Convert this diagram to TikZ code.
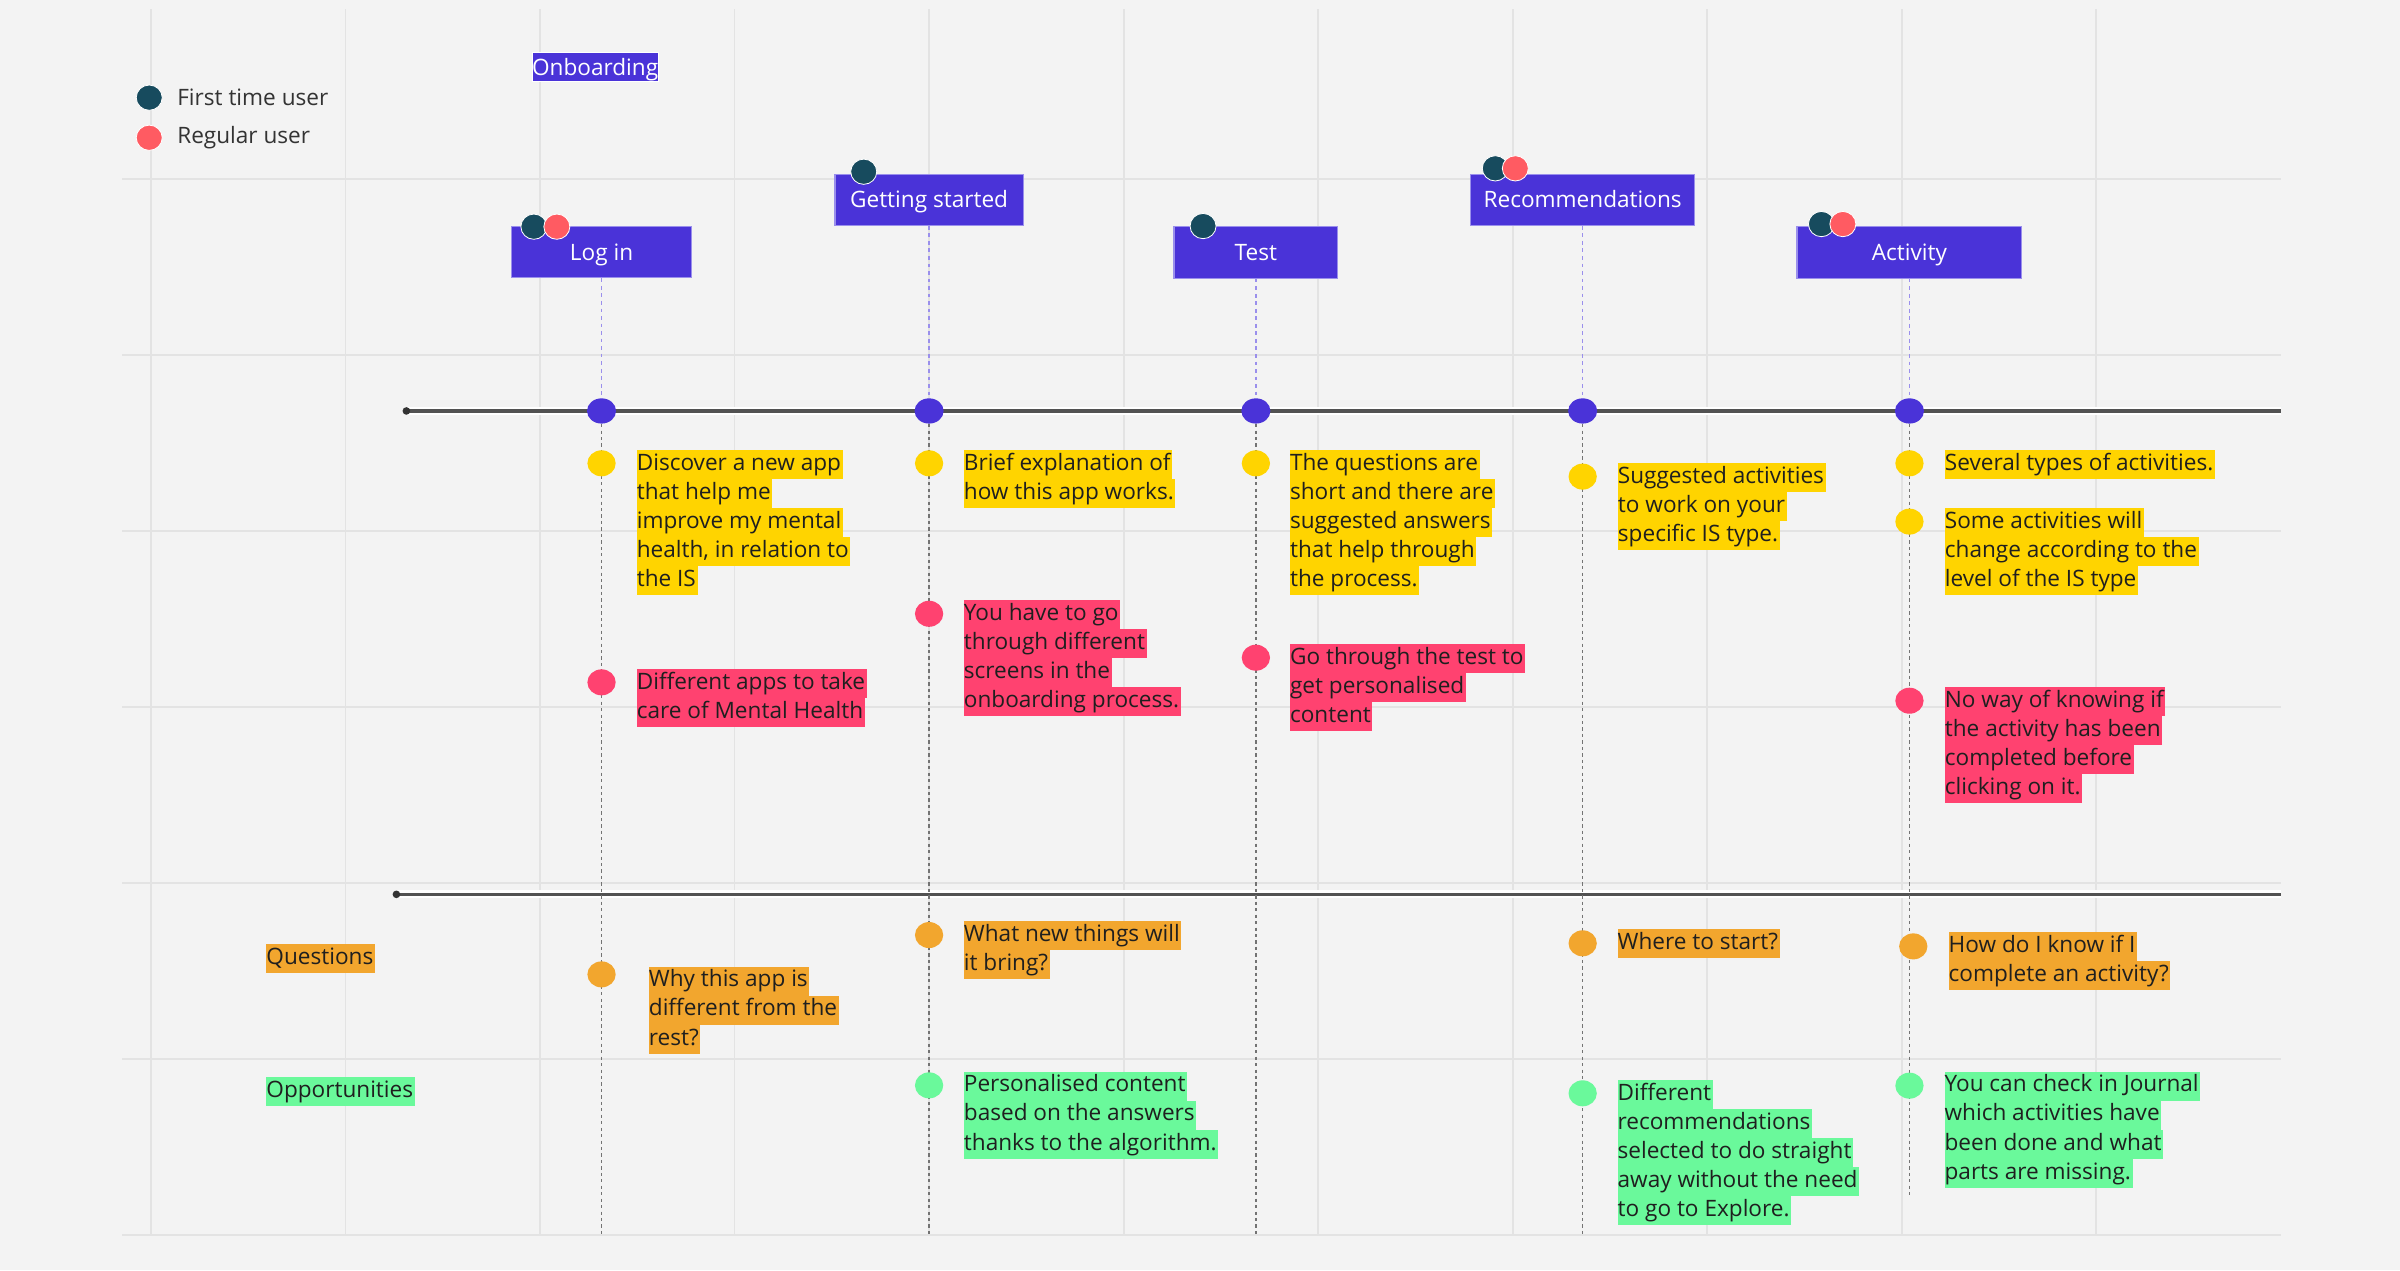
\documentclass[tikz,border=0pt]{standalone}
\usepackage{fontspec}
\setmainfont{Open Sans}
\usepackage{tikz}
\usetikzlibrary{shapes.geometric, backgrounds}

\definecolor{bgcol}{HTML}{F3F3F3}
\definecolor{gridcol}{HTML}{E3E3E3}
\definecolor{stagecol}{HTML}{4A33D8}
\definecolor{linkcol}{HTML}{9A8FEC}
\definecolor{firstcol}{HTML}{174B5E}
\definecolor{regularcol}{HTML}{FF5B62}
\definecolor{yellowcol}{HTML}{FFD400}
\definecolor{pinkcol}{HTML}{FF4270}
\definecolor{orangecol}{HTML}{F2A62E}
\definecolor{greencol}{HTML}{6AF99B}
\definecolor{inkcol}{HTML}{1F1F1F}
\definecolor{axiscol}{HTML}{525252}

\newcommand{\notefont}{\fontsize{8.4}{10.8}\selectfont}
\colorlet{hlcol}{yellowcol}
\newcommand{\hl}[1]{{\setlength{\fboxsep}{0pt}\colorbox{hlcol}{\rule[-3.2pt]{0pt}{10.8pt}#1\hspace{0.6pt}}}}

\begin{document}
\begin{tikzpicture}[x=0.02cm, y=-0.02cm,
    gridline/.style={draw=gridcol, line width=0.7pt},
    axisline/.style={draw=axiscol, line width=1.2pt, preaction={draw=white, line width=3pt}},
    axisdot/.style={circle, fill=black!80, minimum size=0.1cm, inner sep=0pt},
    stage/.style={fill=stagecol, draw=linkcol, line width=0.4pt, text=white,
                  font=\notefont, text height=6pt, text depth=0pt,
                  minimum height=0.67cm, inner sep=0pt},
    stagedot/.style={ellipse, fill=stagecol, minimum width=0.38cm, minimum height=0.33cm, inner sep=0pt},
    avatar/.style={ellipse, draw=white, line width=0.3pt, minimum width=0.34cm,
                   minimum height=0.33cm, inner sep=0pt},
    firstuser/.style={avatar, fill=firstcol},
    regularuser/.style={avatar, fill=regularcol},
    link/.style={draw=linkcol, line width=0.5pt, dash pattern=on 1.4pt off 1.4pt},
    trail/.style={draw=black!55, line width=0.55pt, dash pattern=on 1.2pt off 1.2pt},
    notedot/.style={ellipse, minimum width=0.37cm, minimum height=0.34cm, inner sep=0pt},
    note/.style={anchor=north west, inner sep=0pt, align=left, font=\notefont, text=inkcol},
    yellownote/.style={note, execute at begin node={\colorlet{hlcol}{yellowcol}}},
    pinknote/.style={note, execute at begin node={\colorlet{hlcol}{pinkcol}}},
    orangenote/.style={note, execute at begin node={\colorlet{hlcol}{orangecol}}},
    greennote/.style={note, execute at begin node={\colorlet{hlcol}{greencol}}}
]
    \useasboundingbox (0,0) rectangle (1568,830);

    % --- Board ---
    \begin{scope}[on background layer]
        \fill[bgcol] (0,0) rectangle (1568,830);
        \foreach \gx in {0,...,10}
            \draw[gridline] (98.6+127.1*\gx,6) -- (98.6+127.1*\gx,807);
        \foreach \gy in {117,232,...,807}
            \draw[gridline] (80,\gy) -- (1490,\gy);
    \end{scope}

    % --- Legend ---
    \node[stage, minimum width=1.64cm, minimum height=0.374cm, draw=white] (onboarding) at (388.8,43.8) {Onboarding};
    \node[firstuser] (legend-first) at (97.5,63.8) {};
    \node[regularuser] (legend-regular) at (97.5,90) {};
    \node[anchor=west, inner sep=0pt, font=\notefont, text=black!80] (first-label) at (115.5,63.8) {First time user};
    \node[anchor=west, inner sep=0pt, font=\notefont, text=black!80] (regular-label) at (115.5,90) {Regular user};

    % --- Stages ---
    \node[stage, minimum width=2.35cm] (login)    at (393,164.8)  {Log in};
    \node[stage, minimum width=2.46cm] (start)    at (607,130.5)  {Getting started};
    \node[stage, minimum width=2.14cm] (test)     at (820.5,165)  {Test};
    \node[stage, minimum width=2.92cm] (recs)     at (1034,130.5) {Recommendations};
    \node[stage, minimum width=2.94cm] (activity) at (1247.5,165) {Activity};

    \node[firstuser]   (login-first)    at (348.8,148.1) {};
    \node[regularuser] (login-regular)  at (363.8,148.1) {};
    \node[firstuser]   (start-first)    at (564.3,112.2) {};
    \node[firstuser]   (test-first)     at (786,147.7)   {};
    \node[firstuser]   (recs-first)     at (976.9,110)   {};
    \node[regularuser] (recs-regular)   at (990,110)     {};
    \node[firstuser]   (activity-first) at (1190,146.4)  {};
    \node[regularuser] (activity-regular) at (1204,146.4) {};

    % --- Timelines ---
    \node[axisdot] (axis-start)  at (265.5,268.5) {};
    \coordinate    (axis-end)    at (1490,268.5);
    \node[axisdot] (split-start) at (259,584.3) {};
    \coordinate    (split-end)   at (1490,584.3);

    \node[stagedot] (login-dot)    at (393,268.5)   {};
    \node[stagedot] (start-dot)    at (607,268.5)   {};
    \node[stagedot] (test-dot)     at (820.5,268.5) {};
    \node[stagedot] (recs-dot)     at (1034,268.5)  {};
    \node[stagedot] (activity-dot) at (1247.5,268.5) {};

    \coordinate (login-end)    at (393,807);
    \coordinate (start-end)    at (607,807);
    \coordinate (test-end)     at (820.5,807);
    \coordinate (recs-end)     at (1034,807);
    \coordinate (activity-end) at (1247.5,783);

    % --- Feelings ---
    \node[notedot, fill=yellowcol] (login-good) at (393,302.7) {};
    \node[yellownote] (login-good-text) at (415.7,293.6)
        {\hl{Discover a new app}\\\hl{that help me}\\\hl{improve my mental}\\\hl{health, in relation to}\\\hl{the IS}};
    \node[notedot, fill=pinkcol] (login-bad) at (393,445.8) {};
    \node[pinknote] (login-bad-text) at (415.7,436.6)
        {\hl{Different apps to take}\\\hl{care of Mental Health}};

    \node[notedot, fill=yellowcol] (start-good) at (607,302.7) {};
    \node[yellownote] (start-good-text) at (629.4,293.6)
        {\hl{Brief explanation of}\\\hl{how this app works.}};
    \node[notedot, fill=pinkcol] (start-bad) at (607,401) {};
    \node[pinknote] (start-bad-text) at (629.4,391.8)
        {\hl{You have to go}\\\hl{through different}\\\hl{screens in the}\\\hl{onboarding process.}};

    \node[notedot, fill=yellowcol] (test-good) at (820.5,302.7) {};
    \node[yellownote] (test-good-text) at (842.5,293.6)
        {\hl{The questions are}\\\hl{short and there are}\\\hl{suggested answers}\\\hl{that help through}\\\hl{the process.}};
    \node[notedot, fill=pinkcol] (test-bad) at (820.5,429.7) {};
    \node[pinknote] (test-bad-text) at (842.5,420.3)
        {\hl{Go through the test to}\\\hl{get personalised}\\\hl{content}};

    \node[notedot, fill=yellowcol] (recs-good) at (1034,311.4) {};
    \node[yellownote] (recs-good-text) at (1056.7,302.1)
        {\hl{Suggested activities}\\\hl{to work on your}\\\hl{specific IS type.}};

    \node[notedot, fill=yellowcol] (activity-good) at (1247.5,302.7) {};
    \node[yellownote] (activity-good-text) at (1270.3,293.6)
        {\hl{Several types of activities.}};
    \node[notedot, fill=yellowcol] (activity-good2) at (1247.5,340.8) {};
    \node[yellownote] (activity-good2-text) at (1270.3,331.7)
        {\hl{Some activities will}\\\hl{change according to the}\\\hl{level of the IS type}};
    \node[notedot, fill=pinkcol] (activity-bad) at (1247.5,457.8) {};
    \node[pinknote] (activity-bad-text) at (1270.3,448.6)
        {\hl{No way of knowing if}\\\hl{the activity has been}\\\hl{completed before}\\\hl{clicking on it.}};

    % --- Questions and opportunities ---
    \node[orangenote] (questions) at (173.7,616.3) {\hl{Questions}};
    \node[greennote] (opportunities) at (173.7,703.4) {\hl{Opportunities}};

    \node[notedot, fill=orangecol] (login-ask) at (393,636.6) {};
    \node[orangenote] (login-ask-text) at (423.6,631.1)
        {\hl{Why this app is}\\\hl{different from the}\\\hl{rest?}};

    \node[notedot, fill=orangecol] (start-ask) at (607,610.9) {};
    \node[orangenote] (start-ask-text) at (629.4,601.5)
        {\hl{What new things will}\\\hl{it bring?}};
    \node[notedot, fill=greencol] (start-idea) at (607,709.1) {};
    \node[greennote] (start-idea-text) at (629.4,699.7)
        {\hl{Personalised content}\\\hl{based on the answers}\\\hl{thanks to the algorithm.}};

    \node[notedot, fill=orangecol] (recs-ask) at (1034,616.3) {};
    \node[orangenote] (recs-ask-text) at (1056.5,606.7)
        {\hl{Where to start?}};
    \node[notedot, fill=greencol] (recs-idea) at (1034,714.3) {};
    \node[greennote] (recs-idea-text) at (1056.5,705)
        {\hl{Different}\\\hl{recommendations}\\\hl{selected to do straight}\\\hl{away without the need}\\\hl{to go to Explore.}};

    \node[notedot, fill=orangecol] (activity-ask) at (1250,618.3) {};
    \node[orangenote] (activity-ask-text) at (1272.8,608.7)
        {\hl{How do I know if I}\\\hl{complete an activity?}};
    \node[notedot, fill=greencol] (activity-idea) at (1247.5,709.3) {};
    \node[greennote] (activity-idea-text) at (1270.1,699.7)
        {\hl{You can check in Journal}\\\hl{which activities have}\\\hl{been done and what}\\\hl{parts are missing.}};

    % --- Connectors ---
    \begin{scope}[on background layer]
        \draw[axisline] (axis-start.center) -- (axis-end);
        \draw[axisline] (split-start.center) -- (split-end);
        \foreach \s in {login, start, test, recs, activity} {
            \draw[link]  (\s) -- (\s-dot);
            \draw[trail] (\s-dot) -- (\s-end);
        }
    \end{scope}
\end{tikzpicture}
\end{document}
